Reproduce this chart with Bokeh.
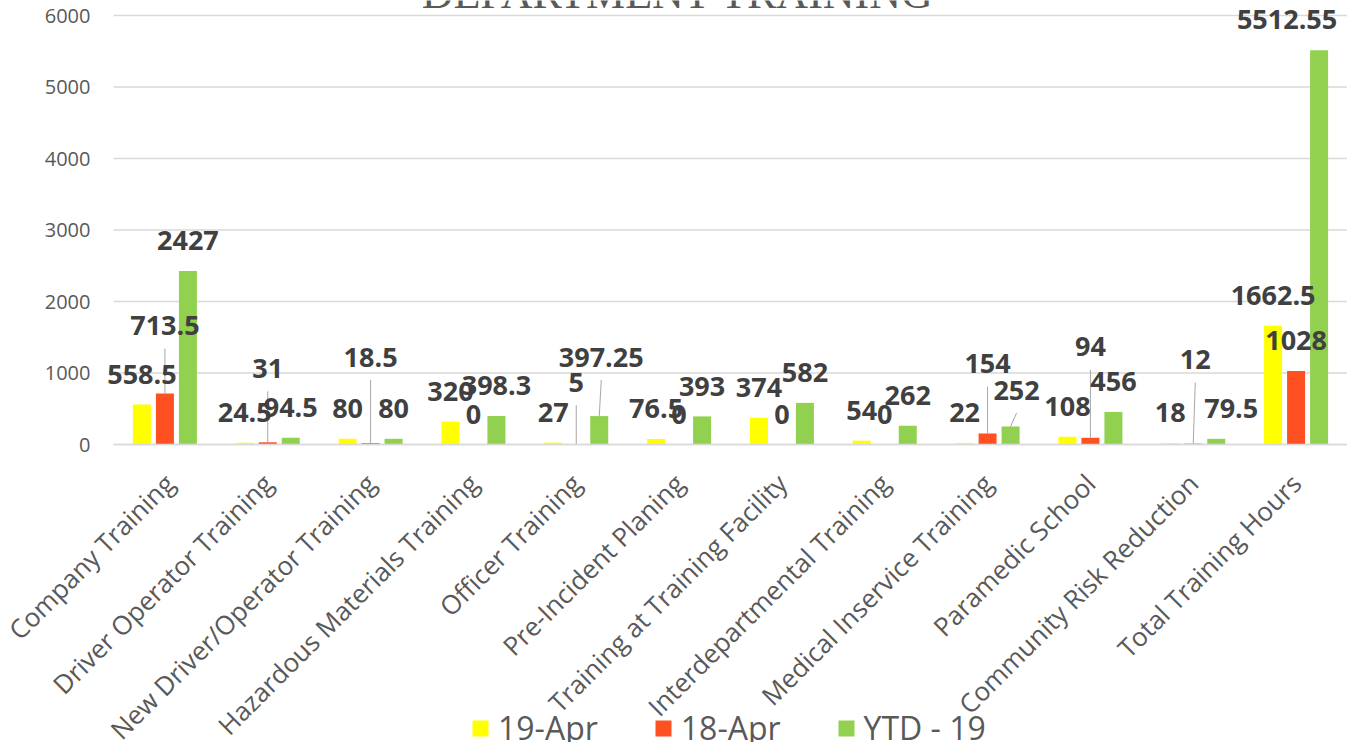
import math
from bokeh.plotting import figure
from bokeh.models import ColumnDataSource, Range1d, FixedTicker
from bokeh.transform import dodge
from bokeh.core.properties import value
from bokeh.embed import file_html
from bokeh.resources import INLINE

# ---------------- data ----------------
categories = [
    "Company Training", "Driver Operator Training", "New Driver/Operator Training",
    "Hazardous Materials Training", "Officer Training", "Pre-Incident Planing",
    "Training at Training Facility", "Interdepartmental Training",
    "Medical Inservice Training", "Paramedic School", "Community Risk Reduction",
    "Total Training Hours",
]
apr19 = [558.5, 24.5, 80, 320, 27, 76.5, 374, 54, 22, 108, 18, 1662.5]
apr18 = [713.5, 31, 18.5, 0, 5, 0, 0, 0, 154, 94, 12, 1028]
ytd19 = [2427, 94.5, 80, 398.3, 397.25, 393, 582, 262, 252, 456, 79.5, 5512.55]
series_names = ["19-Apr", "18-Apr", "YTD - 19"]
y_ticks = [0, 1000, 2000, 3000, 4000, 5000, 6000]
title_text = "DEPARTMENT TRAINING"

# ---------------- label nudges (screen px, relative to default position) ----------------
apr19_dx = [0, 0, 0, 0, 0, 0, 0, 0, 0, 0, 0, 0]
apr19_dy = [0, 0, 0, 0, 0, 0, 0, 0, 0, 0, 0, 0]
apr18_dx = [0, 0, 0, 0, 0, 0, 0, 0, 0, 0, 2, 0]
apr18_dy = [-37.5, -43.5, -55.5, 0, -31.5, 0, 0, 0, -39.5, -60.5, -53.5, 0]
ytd19_dx = [0, 0, 0, 0, 2, 0, 0, 0, 6, 0, 15, -32]
ytd19_dy = [0, 0, 0, 0, -28.5, 0, 0, 0, -6, 0, 0, 0]

colors = ["#FFFF00", "#FF5022", "#92D050"]

# ---------------- layout ----------------
W, H = 1347, 742
PLOT_LEFT = 113                          # screen x where the category area starts
Y_TOP_PX, Y_ZERO_PX = 15, 444            # screen rows of the 6000 and 0 grid lines
PX_PER_UNIT = (Y_ZERO_PX - Y_TOP_PX) / 6000
Y_END = 6000 + Y_TOP_PX / PX_PER_UNIT
Y_START = -(H - Y_ZERO_PX) / PX_PER_UNIT
PX_PER_CAT = (W - PLOT_LEFT) / len(categories)
X_START = -0.5 - PLOT_LEFT / PX_PER_CAT
X_END = len(categories) - 0.5
BAR_W = 18 / PX_PER_CAT
STEP = 23 / PX_PER_CAT
LABEL_GAP = 29.5      # px from bar top to label centre
BASE_SHIFT = 9.6 - 10.5   # centre -> drawn anchor (empirical for svg text)

p = figure(
    width=W, height=H,
    x_range=Range1d(X_START, X_END),
    y_range=Range1d(Y_START, Y_END),
    output_backend="svg", toolbar_location=None,
    min_border_left=0, min_border_right=0, min_border_top=0, min_border_bottom=0,
)
p.outline_line_color = None
p.background_fill_color = "white"
p.border_fill_color = "white"

xi = list(range(len(categories)))

# horizontal grid lines over the category area only
p.segment(x0=[-0.5] * len(y_ticks), x1=[X_END] * len(y_ticks), y0=y_ticks, y1=y_ticks,
          line_color="#D9D9D9", line_width=1.3)

def fmt(v):
    return f"{v:g}"

all_vals = [apr19, apr18, ytd19]
all_dx = [apr19_dx, apr18_dx, ytd19_dx]
all_dy = [apr19_dy, apr18_dy, ytd19_dy]
offsets = [-STEP, 0, STEP]

sources = []
for k in range(3):
    vals = all_vals[k]
    src = ColumnDataSource(dict(
        xi=xi, cat=categories, val=vals, lab=[fmt(v) for v in vals],
        dx=all_dx[k], ty=[-LABEL_GAP + BASE_SHIFT + d for d in all_dy[k]],
    ))
    sources.append(src)
    p.vbar(x=dodge("xi", offsets[k]), top="val", width=BAR_W, source=src,
           fill_color=colors[k], line_color=None, legend_label=series_names[k])

# leader lines for labels that were pulled away from their bars
for k in range(3):
    x0, y0, x1, y1 = [], [], [], []
    for i, (v, dx, dy) in enumerate(zip(all_vals[k], all_dx[k], all_dy[k])):
        if dy <= -5:
            xc = i + offsets[k]
            x0.append(xc + dx / PX_PER_CAT)
            y0.append(v + (LABEL_GAP - 22 - dy) / PX_PER_UNIT)
            x1.append(xc)
            y1.append(v)
    if x0:
        p.segment(x0=x0, y0=y0, x1=x1, y1=y1, line_color="#A6A6A6", line_width=1)

# data labels on top of every bar
for k in range(3):
    p.text(x=dodge("xi", offsets[k]), y="val", text="lab", source=sources[k],
           x_offset="dx", y_offset="ty", text_align="center", text_baseline="alphabetic",
           text_font=value("Open Sans"), text_font_style="bold", text_font_size="27px",
           text_color="#404040")

# clipped chart title (serif, as in the original)
p.text(x=[X_START + 677.5 / PX_PER_CAT], y=[Y_END + 7 / PX_PER_UNIT], text=[title_text],
       text_align="center", text_baseline="alphabetic",
       text_font=value("Liberation Serif"), text_font_size="44px", text_color="#595959")

# axes
p.xgrid.visible = False
p.ygrid.visible = False

p.yaxis.fixed_location = -0.5
p.yaxis.ticker = FixedTicker(ticks=y_ticks)
p.yaxis.axis_line_color = None
p.yaxis.major_tick_line_color = None
p.yaxis.minor_tick_line_color = None
p.yaxis.major_label_text_font = "Open Sans"
p.yaxis.major_label_text_font_size = "20px"
p.yaxis.major_label_text_color = "#595959"
p.yaxis.major_label_standoff = 17

p.xaxis.fixed_location = 0
p.xaxis.bounds = (-0.5, X_END)
p.xaxis.ticker = FixedTicker(ticks=xi)
p.xaxis.major_label_overrides = {i: c for i, c in zip(xi, categories)}
p.xaxis.axis_line_color = "#D9D9D9"
p.xaxis.axis_line_width = 1.3
p.xaxis.major_tick_line_color = None
p.xaxis.minor_tick_line_color = None
p.xaxis.major_label_orientation = math.pi / 4
p.xaxis.major_label_text_font = "Open Sans"
p.xaxis.major_label_text_font_size = "26px"
p.xaxis.major_label_text_color = "#595959"
p.xaxis.major_label_standoff = 28

# legend
lg = p.legend[0]
lg.orientation = "horizontal"
lg.location = (470, -7)
lg.padding = 0
lg.margin = 0
lg.spacing = 55
lg.glyph_width = 20
lg.glyph_height = 20
lg.label_standoff = 8
lg.label_text_font = "Open Sans"
lg.label_text_font_size = "32px"
lg.label_text_color = "#595959"
lg.border_line_color = None
lg.background_fill_alpha = 0

open("out.html", "w").write(file_html(p, INLINE))
